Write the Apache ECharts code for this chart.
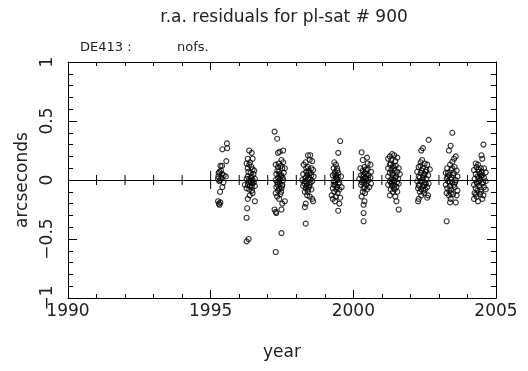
<!DOCTYPE html>
<html>
<head>
<meta charset="utf-8">
<script src="https://cdn.jsdelivr.net/npm/echarts@6/dist/echarts.min.js"></script>
<style>
  html, body { margin: 0; padding: 0; background: #fff; }
  #chart { width: 528px; height: 371px; }
</style>
</head>
<body>
<div id="chart"></div>
<script>
// tick years marked on the zero line
var zeroTicks = [1991, 1992, 1993, 1994, 1995, 1996, 1997, 1998, 1999, 2000, 2001, 2002, 2003, 2004];

// residuals [year, arcsec], one array per opposition
var obs1995 = [[1995.57,0.31],[1995.41,0.26],[1995.58,0.27],[1995.55,0.16],[1995.34,0.12],[1995.40,0.12],[1995.28,0.06],[1995.40,0.05],[1995.46,0.04],[1995.53,0.03],[1995.26,0.01],[1995.33,0.00],[1995.30,-0.01],[1995.41,-0.06],[1995.33,-0.10],[1995.26,-0.18],[1995.34,-0.19],[1995.31,-0.21],[1995.29,-0.20],[1995.36,0.08],[1995.45,-0.02],[1995.27,0.03],[1995.38,0.02],[1995.31,0.07]];
var obs1996 = [[1996.35,0.25],[1996.44,0.23],[1996.47,0.18],[1996.30,0.18],[1996.26,0.14],[1996.35,0.13],[1996.30,0.10],[1996.47,0.09],[1996.53,0.08],[1996.40,0.06],[1996.30,0.03],[1996.44,0.03],[1996.55,0.01],[1996.26,0.01],[1996.35,0.01],[1996.47,0.00],[1996.42,-0.01],[1996.47,-0.03],[1996.20,-0.04],[1996.30,-0.04],[1996.37,-0.05],[1996.44,-0.06],[1996.55,-0.05],[1996.26,-0.07],[1996.35,-0.08],[1996.47,-0.11],[1996.37,-0.13],[1996.30,-0.16],[1996.55,-0.18],[1996.28,-0.24],[1996.26,-0.32],[1996.26,-0.52],[1996.33,-0.50],[1996.40,-0.02],[1996.50,0.05],[1996.33,-0.02],[1996.38,0.15],[1996.45,-0.09],[1996.41,0.02],[1996.51,-0.02],[1996.32,0.07],[1996.43,0.11]];
var obs1997 = [[1997.24,0.41],[1997.33,0.35],[1997.36,0.23],[1997.42,0.24],[1997.54,0.25],[1997.48,0.17],[1997.54,0.15],[1997.28,0.13],[1997.36,0.11],[1997.51,0.10],[1997.60,0.10],[1997.40,0.07],[1997.30,0.05],[1997.48,0.04],[1997.56,0.06],[1997.36,0.02],[1997.44,0.01],[1997.28,0.00],[1997.54,0.00],[1997.33,-0.02],[1997.42,-0.03],[1997.51,-0.04],[1997.30,-0.06],[1997.40,-0.07],[1997.48,-0.07],[1997.36,-0.09],[1997.28,-0.11],[1997.44,-0.12],[1997.33,-0.14],[1997.40,-0.16],[1997.60,-0.18],[1997.51,-0.20],[1997.24,-0.25],[1997.30,-0.28],[1997.48,-0.25],[1997.28,-0.27],[1997.48,-0.45],[1997.28,-0.61],[1997.45,0.03],[1997.38,-0.01],[1997.50,-0.05],[1997.34,0.08],[1997.46,0.12],[1997.41,0.05],[1997.35,-0.04],[1997.47,-0.10],[1997.52,0.02],[1997.39,0.14]];
var obs1998 = [[1998.41,0.21],[1998.49,0.21],[1998.47,0.17],[1998.56,0.16],[1998.33,0.15],[1998.41,0.11],[1998.26,0.13],[1998.53,0.10],[1998.59,0.085],[1998.35,0.07],[1998.45,0.06],[1998.24,0.05],[1998.53,0.04],[1998.61,0.03],[1998.33,0.02],[1998.41,0.01],[1998.49,0.005],[1998.21,0.00],[1998.30,-0.01],[1998.56,-0.01],[1998.38,-0.03],[1998.47,-0.04],[1998.24,-0.05],[1998.33,-0.07],[1998.41,-0.08],[1998.53,-0.08],[1998.30,-0.10],[1998.38,-0.13],[1998.47,-0.14],[1998.56,-0.16],[1998.59,-0.18],[1998.33,-0.20],[1998.30,-0.23],[1998.33,-0.37],[1998.45,-0.06],[1998.35,0.10],[1998.44,0.02],[1998.50,-0.02],[1998.38,0.04],[1998.28,-0.03],[1998.43,0.08],[1998.36,-0.05],[1998.51,0.06],[1998.40,-0.10]];
var obs1999 = [[1999.54,0.33],[1999.47,0.23],[1999.33,0.15],[1999.39,0.13],[1999.31,0.10],[1999.43,0.10],[1999.36,0.07],[1999.47,0.06],[1999.28,0.04],[1999.57,0.03],[1999.39,0.02],[1999.45,0.00],[1999.31,-0.01],[1999.51,-0.02],[1999.36,-0.04],[1999.59,-0.06],[1999.43,-0.06],[1999.28,-0.07],[1999.51,-0.08],[1999.33,-0.10],[1999.45,-0.11],[1999.24,-0.13],[1999.39,-0.14],[1999.54,-0.15],[1999.28,-0.16],[1999.36,-0.18],[1999.51,-0.20],[1999.47,-0.26],[1999.31,-0.04],[1999.40,0.04],[1999.42,0.01],[1999.48,-0.03],[1999.34,0.05],[1999.44,0.08],[1999.37,-0.02],[1999.41,-0.08],[1999.46,0.03]];
var obs2000 = [[2000.29,0.235],[2000.48,0.19],[2000.33,0.17],[2000.60,0.13],[2000.39,0.11],[2000.25,0.10],[2000.50,0.09],[2000.33,0.08],[2000.62,0.07],[2000.41,0.06],[2000.27,0.04],[2000.53,0.04],[2000.36,0.03],[2000.45,0.01],[2000.60,0.02],[2000.21,0.01],[2000.33,0.00],[2000.50,-0.01],[2000.39,-0.01],[2000.62,-0.03],[2000.27,-0.04],[2000.45,-0.04],[2000.56,-0.06],[2000.36,-0.07],[2000.48,-0.08],[2000.33,-0.10],[2000.41,-0.11],[2000.29,-0.14],[2000.39,-0.18],[2000.36,-0.21],[2000.36,-0.28],[2000.36,-0.35],[2000.50,0.14],[2000.42,0.02],[2000.38,-0.03],[2000.46,0.05],[2000.30,-0.02],[2000.44,0.09],[2000.52,0.01],[2000.35,0.05],[2000.40,-0.06]];
var obs2001 = [[2001.28,0.20],[2001.36,0.22],[2001.43,0.21],[2001.22,0.18],[2001.33,0.17],[2001.47,0.16],[2001.54,0.19],[2001.28,0.13],[2001.39,0.12],[2001.59,0.10],[2001.22,0.10],[2001.33,0.085],[2001.45,0.08],[2001.54,0.07],[2001.28,0.06],[2001.39,0.04],[2001.63,0.05],[2001.22,0.03],[2001.47,0.02],[2001.33,0.01],[2001.57,0.01],[2001.28,-0.01],[2001.43,-0.01],[2001.59,-0.03],[2001.22,-0.04],[2001.36,-0.05],[2001.51,-0.06],[2001.31,-0.08],[2001.45,-0.08],[2001.39,-0.10],[2001.54,-0.10],[2001.28,-0.13],[2001.47,-0.14],[2001.51,-0.18],[2001.59,-0.25],[2001.33,-0.03],[2001.43,0.10],[2001.40,0.00],[2001.50,0.03],[2001.36,-0.02],[2001.44,-0.04],[2001.31,0.14],[2001.49,0.12],[2001.37,0.06],[2001.42,-0.07],[2001.53,-0.02]];
var obs2002 = [[2002.64,0.34],[2002.44,0.27],[2002.38,0.25],[2002.41,0.17],[2002.36,0.15],[2002.50,0.14],[2002.59,0.13],[2002.29,0.11],[2002.44,0.10],[2002.56,0.085],[2002.68,0.09],[2002.24,0.07],[2002.36,0.06],[2002.50,0.05],[2002.62,0.04],[2002.29,0.03],[2002.44,0.02],[2002.56,0.01],[2002.24,-0.01],[2002.36,-0.01],[2002.50,-0.02],[2002.64,-0.03],[2002.29,-0.04],[2002.44,-0.05],[2002.59,-0.06],[2002.27,-0.07],[2002.38,-0.08],[2002.52,-0.08],[2002.33,-0.10],[2002.48,-0.11],[2002.62,-0.13],[2002.29,-0.16],[2002.38,-0.13],[2002.59,-0.15],[2002.27,-0.18],[2002.50,-0.04],[2002.42,0.00],[2002.46,0.04],[2002.33,0.02],[2002.54,-0.03],[2002.40,0.08],[2002.53,0.07],[2002.31,-0.05],[2002.46,-0.09],[2002.35,0.12]];
var obs2003 = [[2003.47,0.40],[2003.41,0.29],[2003.35,0.25],[2003.59,0.20],[2003.53,0.18],[2003.47,0.155],[2003.39,0.13],[2003.55,0.11],[2003.29,0.10],[2003.43,0.085],[2003.62,0.08],[2003.24,0.06],[2003.35,0.04],[2003.50,0.04],[2003.65,0.03],[2003.27,0.01],[2003.41,0.01],[2003.59,0.00],[2003.32,-0.01],[2003.47,-0.02],[2003.24,-0.04],[2003.39,-0.05],[2003.55,-0.06],[2003.29,-0.07],[2003.43,-0.08],[2003.65,-0.09],[2003.27,-0.11],[2003.50,-0.12],[2003.35,-0.13],[2003.62,-0.13],[2003.41,-0.16],[2003.59,-0.19],[2003.39,-0.19],[2003.27,-0.35],[2003.53,-0.04],[2003.32,0.06],[2003.44,0.02],[2003.38,-0.02],[2003.52,0.06],[2003.30,0.03],[2003.46,0.10],[2003.36,-0.09],[2003.57,-0.02],[2003.42,-0.11]];
var obs2004 = [[2004.56,0.30],[2004.49,0.21],[2004.52,0.18],[2004.29,0.14],[2004.37,0.13],[2004.32,0.11],[2004.47,0.10],[2004.58,0.10],[2004.23,0.085],[2004.41,0.07],[2004.64,0.065],[2004.29,0.05],[2004.52,0.04],[2004.35,0.03],[2004.58,0.02],[2004.25,0.01],[2004.44,0.00],[2004.64,-0.01],[2004.32,-0.02],[2004.52,-0.03],[2004.23,-0.04],[2004.41,-0.05],[2004.58,-0.06],[2004.29,-0.07],[2004.47,-0.08],[2004.35,-0.09],[2004.64,-0.08],[2004.25,-0.11],[2004.44,-0.12],[2004.56,-0.13],[2004.32,-0.14],[2004.52,-0.16],[2004.37,-0.18],[2004.23,-0.16],[2004.47,-0.10],[2004.41,0.02],[2004.40,-0.01],[2004.48,0.03],[2004.34,-0.03],[2004.44,0.05],[2004.38,0.09],[2004.55,-0.02],[2004.30,-0.12],[2004.50,0.07]];

var allObs = [].concat(obs1995, obs1996, obs1997, obs1998, obs1999, obs2000, obs2001, obs2002, obs2003, obs2004);

var font = '"DejaVu Sans", sans-serif';
var ink = '#222';

function frameAxis(pos, withLabels) {
  return {
    type: 'value', position: pos, min: 1990, max: 2005, interval: 5,
    axisLine: { show: true, onZero: false, lineStyle: { color: '#000', width: 1 } },
    axisTick: { show: true, inside: true, length: 8, lineStyle: { color: '#000' } },
    minorTick: { show: true, splitNumber: 5, length: 4, lineStyle: { color: '#000' } },
    splitLine: { show: false },
    axisLabel: { show: withLabels, color: ink, fontFamily: font, fontSize: 17, margin: 5,
      formatter: function (v) { return String(v); } },
    name: withLabels ? 'year' : '', nameLocation: 'middle', nameGap: 46,
    nameTextStyle: { color: ink, fontFamily: font, fontSize: 17 }
  };
}

function sideAxis(pos, withLabels) {
  return {
    type: 'value', position: pos, min: -1, max: 1, interval: 0.5,
    axisLine: { show: true, onZero: false, lineStyle: { color: '#000', width: 1 } },
    axisTick: { show: true, inside: true, length: 9, lineStyle: { color: '#000' } },
    minorTick: { show: true, splitNumber: 5, length: 5, lineStyle: { color: '#000' } },
    splitLine: { show: false },
    axisLabel: {
      show: withLabels, rotate: 90, color: ink, fontFamily: font, fontSize: 17, margin: 12,
      formatter: function (v) { return v < 0 ? '\u2212' + String(-v) : String(v); }
    },
    name: withLabels ? 'arcseconds' : '', nameLocation: 'middle', nameGap: 34, nameRotate: 90,
    nameTextStyle: { color: ink, fontFamily: font, fontSize: 17 }
  };
}

var chart = echarts.init(document.getElementById('chart'), null, { renderer: 'canvas' });
chart.setOption({
  backgroundColor: '#fff',
  animation: false,
  title: [
    { text: 'r.a. residuals for pl-sat # 900', left: 279, top: 4, textAlign: 'center',
      textStyle: { color: ink, fontFamily: font, fontSize: 17, fontWeight: 'normal' } },
    { text: 'DE413 :', left: 75, top: 36,
      textStyle: { color: ink, fontFamily: font, fontSize: 13, fontWeight: 'normal' } },
    { text: 'nofs.', left: 172, top: 36,
      textStyle: { color: ink, fontFamily: font, fontSize: 13, fontWeight: 'normal' } }
  ],
  grid: { left: 68, right: 32, top: 62, bottom: 73, containLabel: false },
  xAxis: [frameAxis('bottom', true), frameAxis('top', false)],
  yAxis: [sideAxis('left', true), sideAxis('right', false)],
  series: [
    {
      type: 'custom',
      data: zeroTicks,
      silent: true,
      renderItem: function (params, api) {
        var yr = api.value(0);
        var p = api.coord([yr, 0]);
        var h = yr % 5 === 0 ? 9 : 5;
        return { type: 'line', shape: { x1: p[0], y1: p[1] - h, x2: p[0], y2: p[1] + h },
                 style: { stroke: '#000', lineWidth: 1 } };
      },
      encode: { x: 0 },
      z: 1
    },
    {
      type: 'scatter',
      data: allObs,
      symbol: 'circle',
      symbolSize: 5,
      itemStyle: { color: 'rgba(255,255,255,0)', borderColor: '#000', borderWidth: 1.1 },
      markLine: {
        silent: true, symbol: 'none', label: { show: false },
        lineStyle: { color: '#000', width: 1, type: 'solid' },
        data: [{ yAxis: 0 }]
      },
      z: 2
    }
  ]
});
</script>
</body>
</html>
